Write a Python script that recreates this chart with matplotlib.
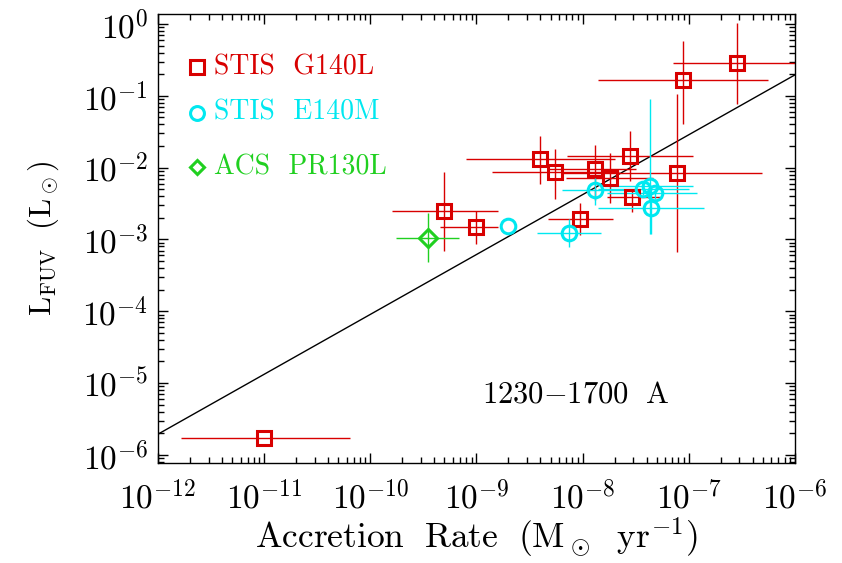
import numpy as np
import matplotlib
matplotlib.use("Agg")
import matplotlib.pyplot as plt
from matplotlib.ticker import LogLocator, FuncFormatter, NullFormatter

plt.rcParams['mathtext.fontset'] = 'cm'
plt.rcParams['font.family'] = ['cmr10', 'DejaVu Serif']
plt.rcParams['axes.unicode_minus'] = False

# STIS G140L
g140_mdot = [1.0e-11, 5.0e-10, 1.0e-9, 4.0e-9, 5.5e-9, 1.32e-8, 1.8e-8, 2.8e-8, 2.9e-8, 9.5e-9, 7.8e-8, 8.9e-8, 2.85e-7]
g140_mdot_lo = [1.66e-12, 1.6e-10, 4.5e-10, 8.0e-10, 1.4e-9, 4.6e-9, 7.0e-9, 7.1e-9, 1.7e-8, 4.7e-9, 6.2e-9, 1.4e-8, 7.1e-8]
g140_mdot_hi = [6.4e-11, 1.6e-9, 1.6e-9, 2.0e-8, 2.2e-8, 3.2e-8, 4.6e-8, 1.1e-7, 5.4e-8, 1.95e-8, 4.9e-7, 5.6e-7, 1.7e-6]
g140_lfuv = [1.7e-6, 2.5e-3, 1.48e-3, 1.32e-2, 8.6e-3, 9.6e-3, 7.2e-3, 1.47e-2, 3.9e-3, 1.9e-3, 8.3e-3, 0.166, 0.29]
g140_lfuv_lo = [1.7e-6, 7.0e-4, 8.7e-4, 6.0e-3, 3.7e-3, 3.5e-3, 3.2e-3, 6.6e-3, 2.4e-3, 1.14e-3, 6.6e-4, 4.0e-2, 7.6e-2]
g140_lfuv_hi = [1.7e-6, 8.6e-3, 2.5e-3, 2.8e-2, 1.8e-2, 2.1e-2, 1.6e-2, 3.2e-2, 5.1e-3, 3.2e-3, 0.105, 0.59, 1.05]

# STIS E140M
e140_mdot = [2.0e-9, 7.5e-9, 1.3e-8, 3.7e-8, 4.3e-8, 4.8e-8, 4.4e-8]
e140_mdot_lo = [2.0e-9, 3.7e-9, 6.4e-9, 1.4e-8, 1.6e-8, 1.7e-8, 1.4e-8]
e140_mdot_hi = [2.0e-9, 1.48e-8, 2.6e-8, 1.0e-7, 1.1e-7, 1.2e-7, 1.4e-7]
e140_lfuv = [1.55e-3, 1.24e-3, 4.9e-3, 5.0e-3, 5.5e-3, 4.4e-3, 2.7e-3]
e140_lfuv_lo = [1.55e-3, 7.8e-4, 3.0e-3, 4.2e-3, 1.2e-3, 3.7e-3, 1.2e-3]
e140_lfuv_hi = [1.55e-3, 1.9e-3, 7.1e-3, 6.0e-3, 9.0e-2, 5.2e-3, 4.5e-3]

# ACS PR130L
acs_mdot = [3.5e-10]
acs_mdot_lo = [1.75e-10]
acs_mdot_hi = [6.9e-10]
acs_lfuv = [1.05e-3]
acs_lfuv_lo = [4.8e-4]
acs_lfuv_hi = [2.3e-3]

# log L = fit_a + fit_b * log Mdot
fit_a = 4.296
fit_b = 0.834

red = '#d80000'
cyan = '#00e8f0'
green = '#20d020'


def errs(v, lo, hi):
    v = np.array(v)
    return np.vstack([v - np.array(lo), np.array(hi) - v])


fig = plt.figure(figsize=(8.42, 5.63), dpi=100)
ax = fig.add_axes([0.1876, 0.1776, 0.7565, 0.7975])
ax.set_xscale('log')
ax.set_yscale('log')

xs = np.logspace(-12, -6, 50)
ax.plot(xs, 10 ** (fit_a + fit_b * np.log10(xs)), color='black', lw=1.0, zorder=1)

sets = [
    (g140_mdot, g140_mdot_lo, g140_mdot_hi, g140_lfuv, g140_lfuv_lo, g140_lfuv_hi, red, 's', 10.5),
    (e140_mdot, e140_mdot_lo, e140_mdot_hi, e140_lfuv, e140_lfuv_lo, e140_lfuv_hi, cyan, 'o', 10.5),
    (acs_mdot, acs_mdot_lo, acs_mdot_hi, acs_lfuv, acs_lfuv_lo, acs_lfuv_hi, green, 'D', 9),
]
for x, xlo, xhi, y, ylo, yhi, c, m, ms in sets:
    ax.errorbar(x, y, xerr=errs(x, xlo, xhi), yerr=errs(y, ylo, yhi),
                fmt=m, ms=ms, mfc='none', mec=c, mew=2.2, ecolor=c,
                elinewidth=1.0, capsize=0, zorder=2)

ax.set_xlim(1e-12, 1e-6)
ax.set_ylim(7.7e-7, 1.38)

ax.xaxis.set_major_locator(LogLocator(base=10, numticks=20))
ax.yaxis.set_major_locator(LogLocator(base=10, numticks=20))
ax.xaxis.set_minor_locator(LogLocator(base=10, subs=np.arange(2, 10), numticks=20))
ax.yaxis.set_minor_locator(LogLocator(base=10, subs=np.arange(2, 10), numticks=20))
fmt = FuncFormatter(lambda v, p: r'$10^{%d}$' % int(round(np.log10(v))))
ax.xaxis.set_major_formatter(fmt)
ax.yaxis.set_major_formatter(fmt)
ax.xaxis.set_minor_formatter(NullFormatter())
ax.yaxis.set_minor_formatter(NullFormatter())
ax.tick_params(which='both', direction='in', top=True, right=True, width=1.0)
ax.tick_params(which='major', length=7.5, labelsize=24)
ax.tick_params(axis='x', which='major', pad=12)
ax.tick_params(axis='y', which='major', pad=7)
ax.tick_params(which='minor', length=4)
for s in ax.spines.values():
    s.set_linewidth(1.0)

ax.set_xlabel(r'$\mathrm{Accretion\ \ Rate\ \ (M_\odot\ \ yr^{-1})}$', fontsize=25.5)
ax.set_ylabel(r'$\mathrm{L_{FUV}\ \ (L_\odot)}$', fontsize=22)
ax.xaxis.set_label_coords(0.5, -0.118)
ax.yaxis.set_label_coords(-0.152, 0.5)

# legend drawn by hand
leg_labels = ['STIS  G140L', 'STIS  E140M', 'ACS  PR130L']
leg_colors = [red, cyan, green]
leg_markers = [('s', 10), ('o', 10), ('D', 7.5)]
leg_y = [0.882, 0.78, 0.659]
for lab, c, (m, ms), yy in zip(leg_labels, leg_colors, leg_markers, leg_y):
    ax.plot([0.061], [yy], marker=m, ms=ms, mfc='none', mec=c, mew=2.2,
            transform=ax.transAxes, clip_on=False)
    ax.text(0.088, yy, lab, color=c, fontsize=20, va='center', ha='left',
            transform=ax.transAxes)

ax.text(0.656, 0.152, r'$\mathrm{1230{-}1700\ \ A}$', fontsize=22,
        ha='center', va='center', transform=ax.transAxes)

fig.savefig('out.png', dpi=100)
